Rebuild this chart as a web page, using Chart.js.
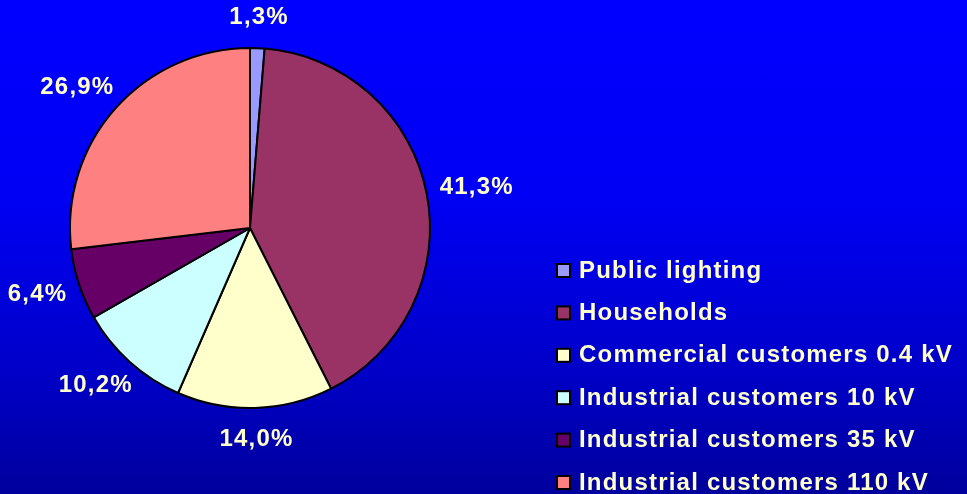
<!DOCTYPE html>
<html>
<head>
<meta charset="utf-8">
<script src="https://cdn.jsdelivr.net/npm/chart.js@4/dist/chart.umd.min.js"></script>
<style>
html,body{margin:0;padding:0;width:967px;height:494px;overflow:hidden;}
body{background:linear-gradient(to bottom,#0000ff 0%,#0000f4 40%,#0000c8 75%,#00009c 100%);}
#wrap{position:absolute;left:0;top:0;width:967px;height:494px;}
</style>
</head>
<body>
<div id="wrap"><canvas id="c" width="967" height="494"></canvas></div>
<script>
const categories = ["Public lighting","Households","Commercial customers 0.4 kV","Industrial customers 10 kV","Industrial customers 35 kV","Industrial customers 110 kV"];
const shares = [1.3, 41.3, 14.0, 10.2, 6.4, 26.9];
const valueLabels = ["1,3%","41,3%","14,0%","10,2%","6,4%","26,9%"];
const colors = ["#9999ff","#993366","#ffffcc","#ccffff","#660066","#ff8080"];

const textColor = "#ffffcc";
const font = "bold 24px 'Liberation Sans', Arial, sans-serif";

const outsideLabels = {
  id: 'outsideLabels',
  afterDatasetsDraw(chart) {
    const ctx = chart.ctx;
    const meta = chart.getDatasetMeta(0);
    ctx.save();
    ctx.font = font;
    ctx.letterSpacing = "1.2px";
    ctx.fillStyle = textColor;
    ctx.textAlign = 'center';
    ctx.textBaseline = 'middle';
    meta.data.forEach((arc, i) => {
      const p = arc.getProps(['x','y','startAngle','endAngle','outerRadius'], true);
      const mid = (p.startAngle + p.endAngle) / 2;
      const c = Math.cos(mid), s = Math.sin(mid);
      const w = ctx.measureText(valueLabels[i]).width;
      const h = 24;
      const r = p.outerRadius + 14;
      const x = p.x + r * c + (w / 2) * c;
      const y = p.y + (r + 5) * s + (h / 2) * s;
      ctx.fillText(valueLabels[i], x, y);
    });
    ctx.restore();
  }
};

const sideLegend = {
  id: 'sideLegend',
  afterDraw(chart) {
    const ctx = chart.ctx;
    ctx.save();
    ctx.font = font;
    ctx.letterSpacing = "1.2px";
    ctx.textAlign = 'left';
    ctx.textBaseline = 'middle';
    const x0 = 557, y0 = 271, step = 42.4;
    categories.forEach((name, i) => {
      const y = y0 + i * step;
      ctx.fillStyle = colors[i];
      ctx.fillRect(x0, y - 7, 13, 13);
      ctx.lineWidth = 2;
      ctx.strokeStyle = '#000000';
      ctx.strokeRect(x0, y - 7, 13, 13);
      ctx.fillStyle = textColor;
      ctx.fillText(name, x0 + 22, y);
    });
    ctx.restore();
  }
};

new Chart(document.getElementById('c'), {
  type: 'pie',
  data: {
    labels: categories,
    datasets: [{
      data: shares,
      backgroundColor: colors,
      borderColor: '#000000',
      borderWidth: 2,
      hoverOffset: 0,
      offset: 0
    }]
  },
  options: {
    responsive: false,
    animation: false,
    events: [],
    layout: { padding: { left: 69, right: 536, top: 47, bottom: 85 } },
    plugins: {
      legend: { display: false },
      tooltip: { enabled: false },
      title: { display: false }
    }
  },
  plugins: [outsideLabels, sideLegend]
});
</script>
</body>
</html>
